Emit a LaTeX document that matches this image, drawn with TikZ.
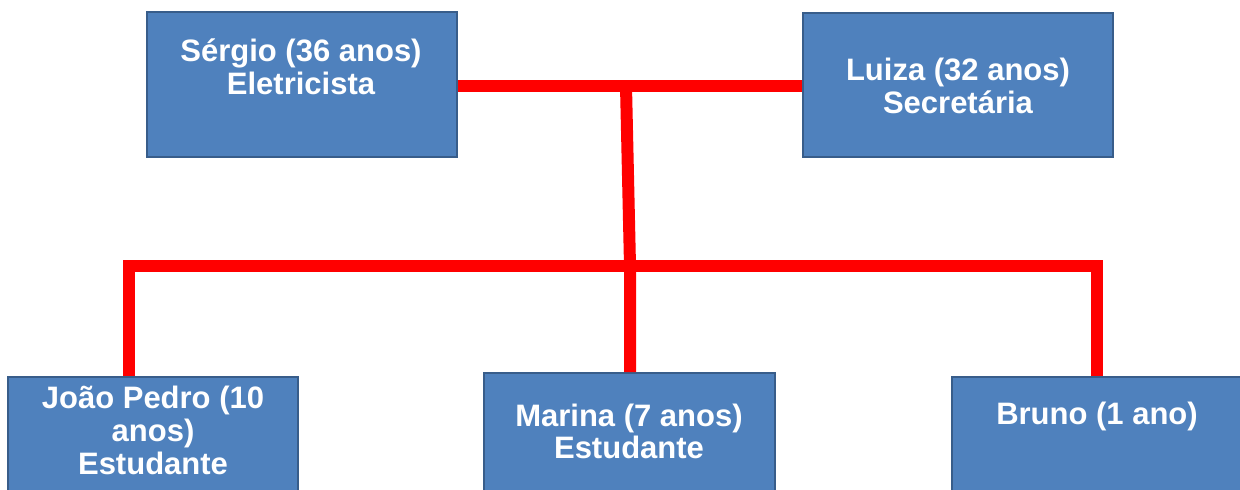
\documentclass[tikz,border=0pt]{standalone}
\usepackage{fontspec}
\setmainfont{Liberation Sans}
\definecolor{boxfill}{HTML}{4F81BD}
\definecolor{boxline}{HTML}{385D8A}
\begin{document}
\begin{tikzpicture}[x=0.5pt,y=-0.5pt,
  pbox/.style={draw=boxline,line width=0.8pt,fill=boxfill,rectangle,inner sep=0pt},
  ptext/.style={text=white,font=\fontsize{15.5}{16.5}\selectfont\bfseries,align=center,anchor=base,inner sep=0pt},
  rl/.style={draw=red,line width=6pt,line join=miter}]
\clip (0,0) rectangle (1240,490);
\fill[white] (0,0) rectangle (1240,490);
% boxes
\node[pbox,minimum width=155pt,minimum height=72.5pt] (s) at (302,84.5) {};
\node[pbox,minimum width=155pt,minimum height=72pt] (l) at (958,85) {};
\node[pbox,minimum width=145pt,minimum height=72pt] (j) at (153,449) {};
\node[pbox,minimum width=145.5pt,minimum height=72pt] (ma) at (629.5,445) {};
\node[pbox,minimum width=146.5pt,minimum height=72pt] (b) at (1098.5,449) {};
% texts (anchor = baseline of last line)
\node[ptext] (st) at (301,95) {Sérgio (36 anos)\\Eletricista};
\node[ptext] (lt) at (958,114) {Luiza (32 anos)\\Secretária};
\node[ptext] (jtx) at (153,475) {João Pedro (10\\anos)\\Estudante};
\node[ptext] (mt) at (629,459) {Marina (7 anos)\\Estudante};
\node[ptext] (btx) at (1097,425) {Bruno (1 ano)};
% connectors
\coordinate (m1) at (626,86);
\coordinate (m2) at (630,266);
\coordinate (jt) at (129,266);
\coordinate (bt) at (1097,266);
\draw[rl] (s.east |- m1) -- (l.west |- m1);
\draw[rl] (m1) -- (m2) -- (m2 |- ma.north);
\draw[rl] (jt |- j.north) -- (jt) -- (bt) -- (bt |- b.north);
\end{tikzpicture}
\end{document}
